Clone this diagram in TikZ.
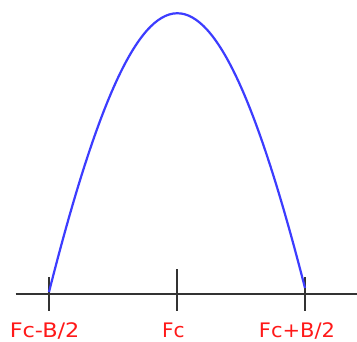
\documentclass[tikz,border=0pt]{standalone}
\usepackage{fontspec}
\usepackage{graphicx}
\setmainfont{DejaVu Sans}
\begin{document}
\begin{tikzpicture}[x=1pt,y=-1pt,
  axisline/.style={draw=black!80,line width=2pt},
  tickline/.style={draw=black!80,line width=2pt},
  curveline/.style={draw={rgb,255:red,60;green,60;blue,255},line width=2.2pt},
  lbl/.style={text=red!90!white,font=\fontsize{20}{22}\selectfont,anchor=base,inner sep=0pt}]
\useasboundingbox (0,0) rectangle (357,341);
\fill[white] (0,0) rectangle (357,341);
% axis
\coordinate (axL) at (15.5,293.5);
\coordinate (axR) at (357,293.5);
\draw[axisline] (axL) -- (axR);
% ticks
\coordinate (t1a) at (48.7,277); \coordinate (t1b) at (48.7,311);
\coordinate (t2a) at (176.7,269); \coordinate (t2b) at (176.7,311);
\coordinate (t3a) at (305,277); \coordinate (t3b) at (305,311);
\draw[tickline] (t1a) -- (t1b);
\draw[tickline] (t2a) -- (t2b);
\draw[tickline] (t3a) -- (t3b);
% curve
\coordinate (cs) at (49,292);
\coordinate (ce) at (305,288);
\draw[curveline] (cs) .. controls (143,-79) and (211,-79) .. (ce);
% labels
\node[lbl] (l1) at (44.6,337) {\scalebox{1.12}[1]{Fc-B/2}};
\node[lbl] (l2) at (173.3,337) {Fc};
\node[lbl] (l3) at (297,337) {\scalebox{1.05}[1]{Fc+B/2}};
\end{tikzpicture}
\end{document}
